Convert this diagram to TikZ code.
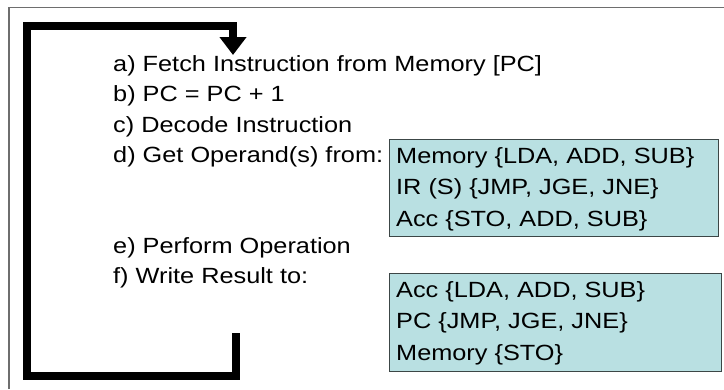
\documentclass[tikz,border=0pt]{standalone}
\usepackage{fontspec}
\setmainfont{Liberation Sans}
\usepackage{graphicx}
\usetikzlibrary{arrows.meta,positioning}
\definecolor{boxfill}{RGB}{185,224,226}
\definecolor{boxedge}{RGB}{60,70,70}
\definecolor{framegray}{RGB}{110,110,110}
\newcommand{\wide}[1]{\scalebox{1.15}[1]{#1}}
\tikzset{
  steptext/.style={anchor=base west, inner sep=0pt, font=\fontsize{22}{30.5}\selectfont},
  opbox/.style={draw=boxedge, line width=1pt, fill=boxfill, anchor=north west,
    inner sep=0pt, minimum width=331pt, minimum height=97pt},
  loopline/.style={line width=8pt, line cap=butt, line join=miter}
}

\begin{document}
\begin{tikzpicture}[x=1pt, y=-1pt]
\useasboundingbox (0,0) rectangle (724,389);
% Frame
\draw[framegray, line width=1.2pt] (9,389) -- (9,7.5) -- (724,7.5);

% Steps
\node[steptext] (stepa) at (113,71) {\wide{a) Fetch Instruction from Memory [PC]}};
\node[steptext] (stepb) at (113,101.5) {\wide{b) PC = PC + 1}};
\node[steptext] (stepc) at (113,132) {\wide{c) Decode Instruction}};
\node[steptext] (stepd) at (113,162.5) {\wide{d) Get Operand(s) from:}};
\node[steptext] (stepe) at (113,253) {\wide{e) Perform Operation}};
\node[steptext] (stepf) at (113,283.5) {\wide{f) Write Result to:}};

% Operand sources
\node[opbox, minimum width=329pt] (srcbox) at (389,139) {};
\node[steptext] (srcmem) at (396,163) {\wide{Memory \{LDA, ADD, SUB\}}};
\node[steptext] (srcir) at (396,194.5) {\wide{IR (S) \{JMP, JGE, JNE\}}};
\node[steptext] (srcacc) at (396,226) {\wide{Acc \{STO, ADD, SUB\}}};

% Result targets
\node[opbox, minimum width=332pt, minimum height=98pt] (dstbox) at (389,273) {};
\node[steptext] (dstacc) at (396,297) {\wide{Acc \{LDA, ADD, SUB\}}};
\node[steptext] (dstpc) at (396,328.5) {\wide{PC \{JMP, JGE, JNE\}}};
\node[steptext] (dstmem) at (396,360) {\wide{Memory \{STO\}}};

% Loop back to fetch
\coordinate (loopend) at (236,333);
\coordinate (fetchin) at (233,55);
\draw[loopline, -{Triangle[width=26pt,length=18pt]}] (loopend) -- (236,376) -- (27,376) -- (27,26) -- (233,26) -- (fetchin);
\end{tikzpicture}
\end{document}
